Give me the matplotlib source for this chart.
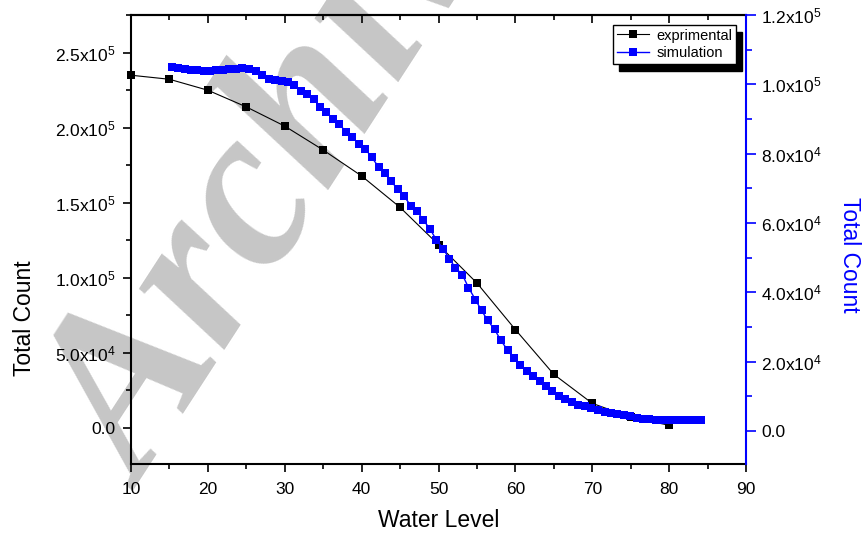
import numpy as np
import matplotlib
matplotlib.use("Agg")
import matplotlib.pyplot as plt
import matplotlib.ticker as ticker
from matplotlib.patches import Rectangle

# experimental data (left axis)
exp_x = [10, 15, 20, 25, 30, 35, 40, 45, 50, 55, 60, 65, 70, 75, 80]
exp_y = [234900, 232200, 224900, 213800, 201000, 185100, 167800, 146900,
         122000, 96500, 65500, 35700, 16400, 7100, 1800]

# simulation data (right axis)
sim_x = [15.3, 16.1, 17.0, 17.8, 18.6, 19.5, 20.3, 21.1, 22.0, 22.8,
         23.7, 24.5, 25.4, 26.2, 27.0, 27.9, 28.7, 29.6, 30.4, 31.2,
         32.1, 32.9, 33.8, 34.6, 35.4, 36.3, 37.1, 38.0, 38.8, 39.6,
         40.5, 41.3, 42.2, 43.0, 43.8, 44.7, 45.5, 46.4, 47.2, 48.0,
         48.9, 49.7, 50.6, 51.4, 52.2, 53.1, 53.9, 54.8, 55.6, 56.4,
         57.3, 58.1, 59.0, 59.8, 60.6, 61.5, 62.3, 63.2, 64.0, 64.8,
         65.7, 66.5, 67.4, 68.2, 69.0, 69.9, 70.7, 71.6, 72.4, 73.2,
         74.1, 74.9, 75.8, 76.6, 77.4, 78.3, 79.1, 80.0, 80.8, 81.6,
         82.5, 83.3, 84.2]
sim_y = [104900, 104600, 104300, 104000, 104000, 103900, 103900, 104000, 104000, 104300,
         104500, 104600, 104500, 103800, 102600, 101500, 101200, 101000, 100600, 99700,
         98000, 97100, 95700, 93400, 92000, 90000, 88500, 86200, 84800, 82800,
         81300, 79000, 76200, 74400, 72100, 69800, 67800, 65000, 63500, 60900,
         58300, 55200, 52600, 49700, 47100, 45100, 41400, 37900, 34800, 31900,
         29300, 26200, 23300, 21000, 19000, 17200, 15800, 14400, 12900, 11500,
         10100, 9200, 8300, 7600, 7200, 6600, 6000, 5600, 5200, 4900,
         4600, 4300, 3900, 3600, 3400, 3300, 3200, 3200, 3200, 3200,
         3300, 3300, 3300]

plt.rcParams['font.family'] = ['Liberation Sans', 'DejaVu Sans']
plt.rcParams['mathtext.fontset'] = 'custom'
plt.rcParams['mathtext.rm'] = 'Liberation Sans'
plt.rcParams['mathtext.it'] = 'Liberation Sans:italic'


def sci_fmt(v, pos=None):
    if abs(v) < 1e-9:
        return "0.0"
    e = int(np.floor(np.log10(abs(v)) + 1e-9))
    m = v / 10 ** e
    return f"{m:.1f}x10$^{{{e}}}$"


fig = plt.figure(figsize=(8.63, 5.37), dpi=100)
ax = fig.add_axes([131 / 863, 1 - 464 / 537, 615 / 863, 449 / 537])
ax.patch.set_visible(False)
ax2 = ax.twinx()

# watermark (runs off the top edge, as in the original)
fig.text(145 / 863, 1 - 491 / 537, "Archive", fontsize=165, color='#c6c6c6',
         family=['Liberation Serif', 'DejaVu Serif'], fontweight='bold',
         fontstyle='italic', rotation=57, rotation_mode='anchor',
         ha='left', va='baseline', zorder=-1)

l1, = ax.plot(exp_x, exp_y, color='black', lw=0.8, marker='s', ms=6.3,
              mec='black', mew=0, label='exprimental', clip_on=False)
l2, = ax2.plot(sim_x, sim_y, color='#0000ff', lw=1, marker='s', ms=5.8,
               mec='#0000ff', mew=0, label='simulation')

ax.set_xlim(10, 90)
ax.set_ylim(-24000, 275000)
ax2.set_ylim(-9500, 120000)

ax.xaxis.set_major_locator(ticker.MultipleLocator(10))
ax.xaxis.set_minor_locator(ticker.MultipleLocator(5))
ax.yaxis.set_major_locator(ticker.MultipleLocator(50000))
ax.yaxis.set_minor_locator(ticker.MultipleLocator(25000))
ax.yaxis.set_major_formatter(ticker.FuncFormatter(sci_fmt))
ax2.yaxis.set_major_locator(ticker.MultipleLocator(20000))
ax2.yaxis.set_minor_locator(ticker.MultipleLocator(10000))
ax2.yaxis.set_major_formatter(ticker.FuncFormatter(sci_fmt))

ax.tick_params(axis='both', which='major', direction='out', length=6, width=1.2,
               labelsize=12.5, pad=5)
ax.tick_params(axis='both', which='minor', direction='out', length=3.5, width=1.2)
ax.tick_params(axis='x', pad=7)
ax2.tick_params(axis='y', which='major', direction='out', length=7, width=1.2,
                colors='#0000ff', labelcolor='black', labelsize=12.5, pad=4)
ax2.tick_params(axis='y', which='minor', direction='out', length=4, width=1.2,
                colors='#0000ff')

# top axis ticks pointing inward
top = ax.secondary_xaxis('top')
top.xaxis.set_major_locator(ticker.MultipleLocator(10))
top.xaxis.set_minor_locator(ticker.MultipleLocator(5))
top.tick_params(which='major', direction='in', length=6, width=1.2, labeltop=False)
top.tick_params(which='minor', direction='in', length=3.5, width=1.2)
top.spines['top'].set_linewidth(1.5)

for s in ['left', 'bottom', 'top']:
    ax.spines[s].set_linewidth(1.5)
ax.spines['right'].set_visible(False)
for s in ['left', 'bottom', 'top']:
    ax2.spines[s].set_visible(False)
ax2.spines['right'].set_color('#0000ff')
ax2.spines['right'].set_linewidth(1.5)

ax.set_xlabel("Water Level", fontsize=16.5)
ax.set_ylabel("Total Count", fontsize=16.5)
ax2.set_ylabel("Total Count", fontsize=16.5, color='#0000ff', rotation=270,
               va='center')
ax.xaxis.set_label_coords(0.5, -0.1)
ax.yaxis.set_label_coords(-0.155, 0.325)
ax2.yaxis.set_label_coords(1.169, 0.465)

leg = ax2.legend([l1, l2], ['exprimental', 'simulation'], loc='upper right',
                 bbox_to_anchor=(0.984, 0.978), borderaxespad=0, fontsize=10.5,
                 frameon=True, fancybox=False, framealpha=1, edgecolor='black',
                 handlelength=2.2, handletextpad=0.5, borderpad=0.25,
                 labelspacing=0.25, markerscale=1.0)
leg.get_frame().set_linewidth(1)

fig.canvas.draw()
bb = leg.get_window_extent()
inv = ax2.transAxes.inverted()
x0, y0 = inv.transform((bb.x0 + 6, bb.y0 - 7))
x1, y1 = inv.transform((bb.x1 + 6, bb.y1 - 7))
ax2.add_patch(Rectangle((x0, y0), x1 - x0, y1 - y0, transform=ax2.transAxes,
                        facecolor='black', edgecolor='black', zorder=4, clip_on=False))

fig.savefig("out.png", dpi=100)
